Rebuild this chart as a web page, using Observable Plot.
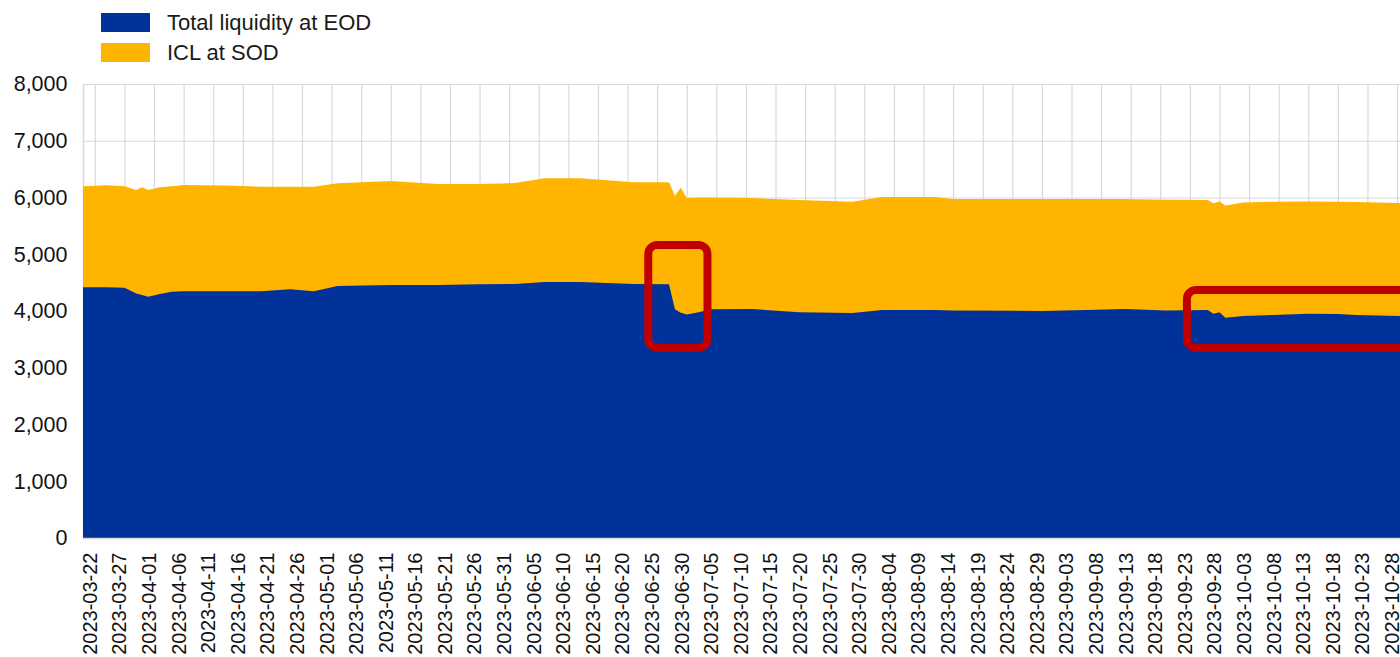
<!DOCTYPE html>
<html>
<head>
<meta charset="utf-8">
<script src="https://cdn.jsdelivr.net/npm/d3@7"></script>
<script src="https://cdn.jsdelivr.net/npm/@observablehq/plot@0.6"></script>
<style>
  html, body { margin: 0; padding: 0; background: #fff; }
  body { width: 1400px; height: 657px; overflow: hidden; font-family: "Liberation Sans", Arial, sans-serif; }
  #legend { position: relative; height: 65px; width: 1400px; }
  .sw { position: absolute; left: 101px; width: 49px; height: 19px; }
  .lt { position: absolute; left: 167px; font-size: 22px; line-height: 26px; color: #1a1a1a; white-space: nowrap; }
</style>
</head>
<body>
<div id="legend"></div>
<div id="chart"></div>
<script>
// ---- Data ----
const seriesNames = ["Total liquidity at EOD", "ICL at SOD"];
const seriesColors = ["#003299", "#FFB400"];

const dates = [
  "2023-03-20","2023-03-24","2023-03-27","2023-03-29","2023-03-30","2023-03-31",
  "2023-04-02","2023-04-04","2023-04-06","2023-04-13","2023-04-19","2023-04-24",
  "2023-04-28","2023-05-02","2023-05-11","2023-05-19","2023-05-26","2023-06-01",
  "2023-06-06","2023-06-12","2023-06-21","2023-06-27","2023-06-28","2023-06-29",
  "2023-06-30","2023-07-02","2023-07-04","2023-07-11","2023-07-19","2023-07-28",
  "2023-08-02","2023-08-11","2023-08-14","2023-08-29","2023-09-09","2023-09-12",
  "2023-09-19","2023-09-26","2023-09-27","2023-09-28","2023-09-29","2023-10-02",
  "2023-10-07","2023-10-13","2023-10-18","2023-10-21","2023-10-31"
];
// ICL at SOD
const icl = [
  6200, 6215, 6200, 6130, 6180, 6130,
  6180, 6200, 6220, 6210, 6190, 6190,
  6190, 6250, 6290, 6240, 6240, 6255,
  6340, 6340, 6270, 6270, 6030, 6170,
  5990, 6000, 6000, 5990, 5955, 5925,
  6010, 6010, 5975, 5975, 5975, 5975,
  5960, 5956, 5900, 5930, 5860, 5910,
  5925, 5930, 5925, 5920, 5900
];
// Total liquidity at EOD
const eod = [
  4420, 4420, 4410, 4310, 4280, 4250,
  4300, 4340, 4350, 4350, 4350, 4385,
  4350, 4440, 4460, 4460, 4470, 4476,
  4510, 4510, 4475, 4470, 4030, 3970,
  3940, 3980, 4030, 4035, 3980, 3965,
  4018, 4018, 4010, 4000, 4025, 4035,
  4010, 4018, 3950, 3980, 3880, 3910,
  3930, 3950, 3945, 3930, 3905
];

const xTickLabels = [
  "2023-03-22","2023-03-27","2023-04-01","2023-04-06","2023-04-11","2023-04-16",
  "2023-04-21","2023-04-26","2023-05-01","2023-05-06","2023-05-11","2023-05-16",
  "2023-05-21","2023-05-26","2023-05-31","2023-06-05","2023-06-10","2023-06-15",
  "2023-06-20","2023-06-25","2023-06-30","2023-07-05","2023-07-10","2023-07-15",
  "2023-07-20","2023-07-25","2023-07-30","2023-08-04","2023-08-09","2023-08-14",
  "2023-08-19","2023-08-24","2023-08-29","2023-09-03","2023-09-08","2023-09-13",
  "2023-09-18","2023-09-23","2023-09-28","2023-10-03","2023-10-08","2023-10-13",
  "2023-10-18","2023-10-23","2023-10-28"
];
const yTicks = [0, 1000, 2000, 3000, 4000, 5000, 6000, 7000, 8000];

// Highlight boxes (annotation), in data terms
const boxStart = ["2023-06-23T12:00Z", "2023-09-22T12:00Z"];
const boxEnd   = ["2023-07-03T12:00Z", "2023-11-06"];
const boxLow   = [3350, 3350];
const boxHigh  = [5165, 4370];

const xDomain = ["2023-03-20", "2023-10-28T12:00Z"];

// ---- Build ----
const data = dates.map((d, i) => ({date: new Date(d), icl: icl[i], eod: eod[i]}));
const xTicks = xTickLabels.map(d => new Date(d));
const boxes = boxStart.map((d, i) => ({x1: new Date(d), x2: new Date(boxEnd[i]), y1: boxLow[i], y2: boxHigh[i]}));

// legend
const legend = document.getElementById("legend");
const rows = [{name: seriesNames[0], color: seriesColors[0], top: 13}, {name: seriesNames[1], color: seriesColors[1], top: 43}];
rows.forEach(r => {
  const sw = document.createElement("div");
  sw.className = "sw"; sw.style.top = r.top + "px"; sw.style.background = r.color;
  legend.appendChild(sw);
  const t = document.createElement("div");
  t.className = "lt"; t.style.top = (r.top - 3) + "px"; t.textContent = r.name;
  legend.appendChild(t);
});

const grid = "#d9d9d9";
const chart = Plot.plot({
  width: 1400,
  height: 592,
  marginTop: 19,
  marginBottom: 119,
  marginLeft: 83,
  marginRight: 0,
  style: {fontFamily: '"Liberation Sans", Arial, sans-serif', color: "#111", background: "#fff", overflow: "hidden"},
  x: {type: "utc", domain: xDomain.map(d => new Date(d))},
  y: {domain: [0, 8000]},
  marks: [
    Plot.ruleY(yTicks, {stroke: grid, strokeWidth: 1.2}),
    Plot.ruleX(xTicks, {stroke: grid, strokeWidth: 1.2}),
    Plot.ruleX([new Date(xDomain[0])], {stroke: grid, strokeWidth: 1.5}),
    Plot.areaY(data, {x: "date", y: "icl", fill: seriesColors[1], clip: true}),
    Plot.areaY(data, {x: "date", y: "eod", fill: seriesColors[0], clip: true}),
    Plot.ruleY([0], {stroke: grid, strokeWidth: 1.5}),
    Plot.rect(boxes, {x1: "x1", x2: "x2", y1: "y1", y2: "y2", fill: "none", stroke: "#C00000", strokeWidth: 8, rx: 9}),
    Plot.axisX({ticks: xTicks, tickFormat: d3.utcFormat("%Y-%m-%d"), tickRotate: -90, tickSize: 0, tickPadding: 14, fontSize: 20, dx: -5}),
    Plot.axisY({ticks: yTicks, tickFormat: d3.format(","), tickSize: 0, tickPadding: 16, fontSize: 21.5})
  ]
});
document.getElementById("chart").appendChild(chart);
</script>
</body>
</html>
